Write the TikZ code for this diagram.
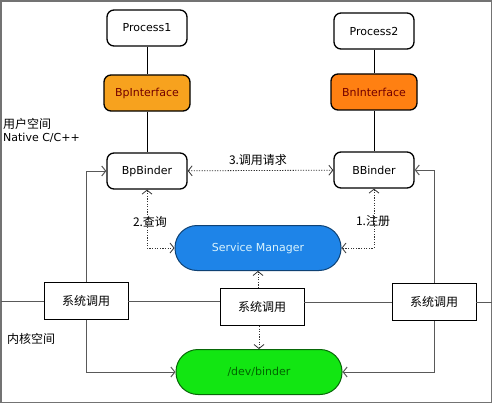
\documentclass[tikz,border=0pt]{standalone}
\usepackage{fontspec}
\setmainfont{DejaVu Sans}
\newfontfamily\cjk{Noto Sans CJK SC}
\usetikzlibrary{arrows.meta}
\definecolor{bporange}{RGB}{247,162,30}
\definecolor{bnorange}{RGB}{255,128,18}
\definecolor{smblue}{RGB}{30,132,232}
\definecolor{bdgreen}{RGB}{18,230,18}

\begin{document}
\begin{tikzpicture}[x=1pt,y=-1pt,>={Straight Barb[length=4pt,width=10pt]},
  proc/.style={draw,line width=1.3pt,rounded corners=7pt,fill=white,minimum width=80pt,minimum height=36pt,font=\fontsize{11}{13}\selectfont},
  iface/.style={proc,minimum width=86pt,text=red!45!black},
  pill/.style={draw,line width=1pt,rounded corners=22pt,minimum width=166pt,minimum height=45pt,font=\fontsize{11}{13}\selectfont},
  sysbox/.style={draw,line width=.8pt,fill=white,minimum width=84pt,minimum height=37pt,font=\cjk\fontsize{12}{14}\selectfont},
  lbl/.style={font=\cjk\fontsize{12}{14}\selectfont},
  dotline/.style={black!80,line width=.8pt,dash pattern=on 1.2pt off 1.4pt},
  sysline/.style={black!65,line width=1pt}]
\useasboundingbox (0,0) rectangle (493,404);
\draw[black!55,line width=1.2pt] (1,1) rectangle (491.5,402.5);
\coordinate (edgeL) at (1,301);
\coordinate (edgeR) at (491.5,302);

\node[proc] (p1) at (147,28) {Process1};
\node[iface,fill=bporange] (bpi) at (147,93) {BpInterface};
\node[proc] (bpb) at (147,171) {BpBinder};
\node[proc] (p2) at (374,31) {Process2};
\node[iface,fill=bnorange] (bni) at (374,92) {BnInterface};
\node[proc] (bb) at (374,170) {BBinder};
\node[pill,fill=smblue,draw=smblue!50!black,text=cyan!15] (sm) at (258,248) {Service Manager};
\node[pill,fill=bdgreen,draw=bdgreen!45!black,text=green!40!black] (binder) at (259,372) {/dev/binder};
\node[sysbox] (sysL) at (86,301) {系统调用};
\node[sysbox] (sysM) at (262,307) {系统调用};
\node[sysbox] (sysR) at (434,302) {系统调用};

\node[lbl,anchor=west,align=left,inner sep=0pt] (user) at (3,130) {用户空间\\[-1pt]{\rmfamily\fontsize{11}{13}\selectfont Native C/C++}};
\node[lbl,anchor=west,inner sep=0pt] (kernel) at (7,339) {内核空间};
\node[lbl] (call) at (258,160) {3.调用请求};
\node[lbl] (query) at (150,222) {2.查询};
\node[lbl] (reg) at (373,221) {1.注册};

\draw[line width=.8pt] (p1) -- (bpi) -- (bpb);
\draw[line width=.8pt] (p2) -- (bni) -- (bb);
\draw[dotline,<->] (bpb) -- (bb);
\draw[dotline,<->] (bpb.south) |- (sm.west);
\draw[dotline,<->] (bb.south) |- (sm.east);
\draw[dotline,->] (sysM.north -| sm.south) -- (sm.south);
\draw[dotline,->] (sysM.south -| binder.north) -- (binder.north);

\draw[sysline] (edgeL) -- (sysL.west);
\draw[sysline] (sysL.east) -- (sysL.east -| sysM.west);
\draw[sysline] (sysR.west -| sysM.east) -- (sysR.west);
\draw[sysline] (sysR.east) -- (edgeR);
\draw[sysline,->] (sysL.north) |- (bpb.west);
\draw[sysline,->] (sysL.south) |- (binder.west);
\draw[sysline,->] (sysR.north) |- (bb.east);
\draw[sysline,->] (sysR.south) |- (binder.east);
\end{tikzpicture}
\end{document}
